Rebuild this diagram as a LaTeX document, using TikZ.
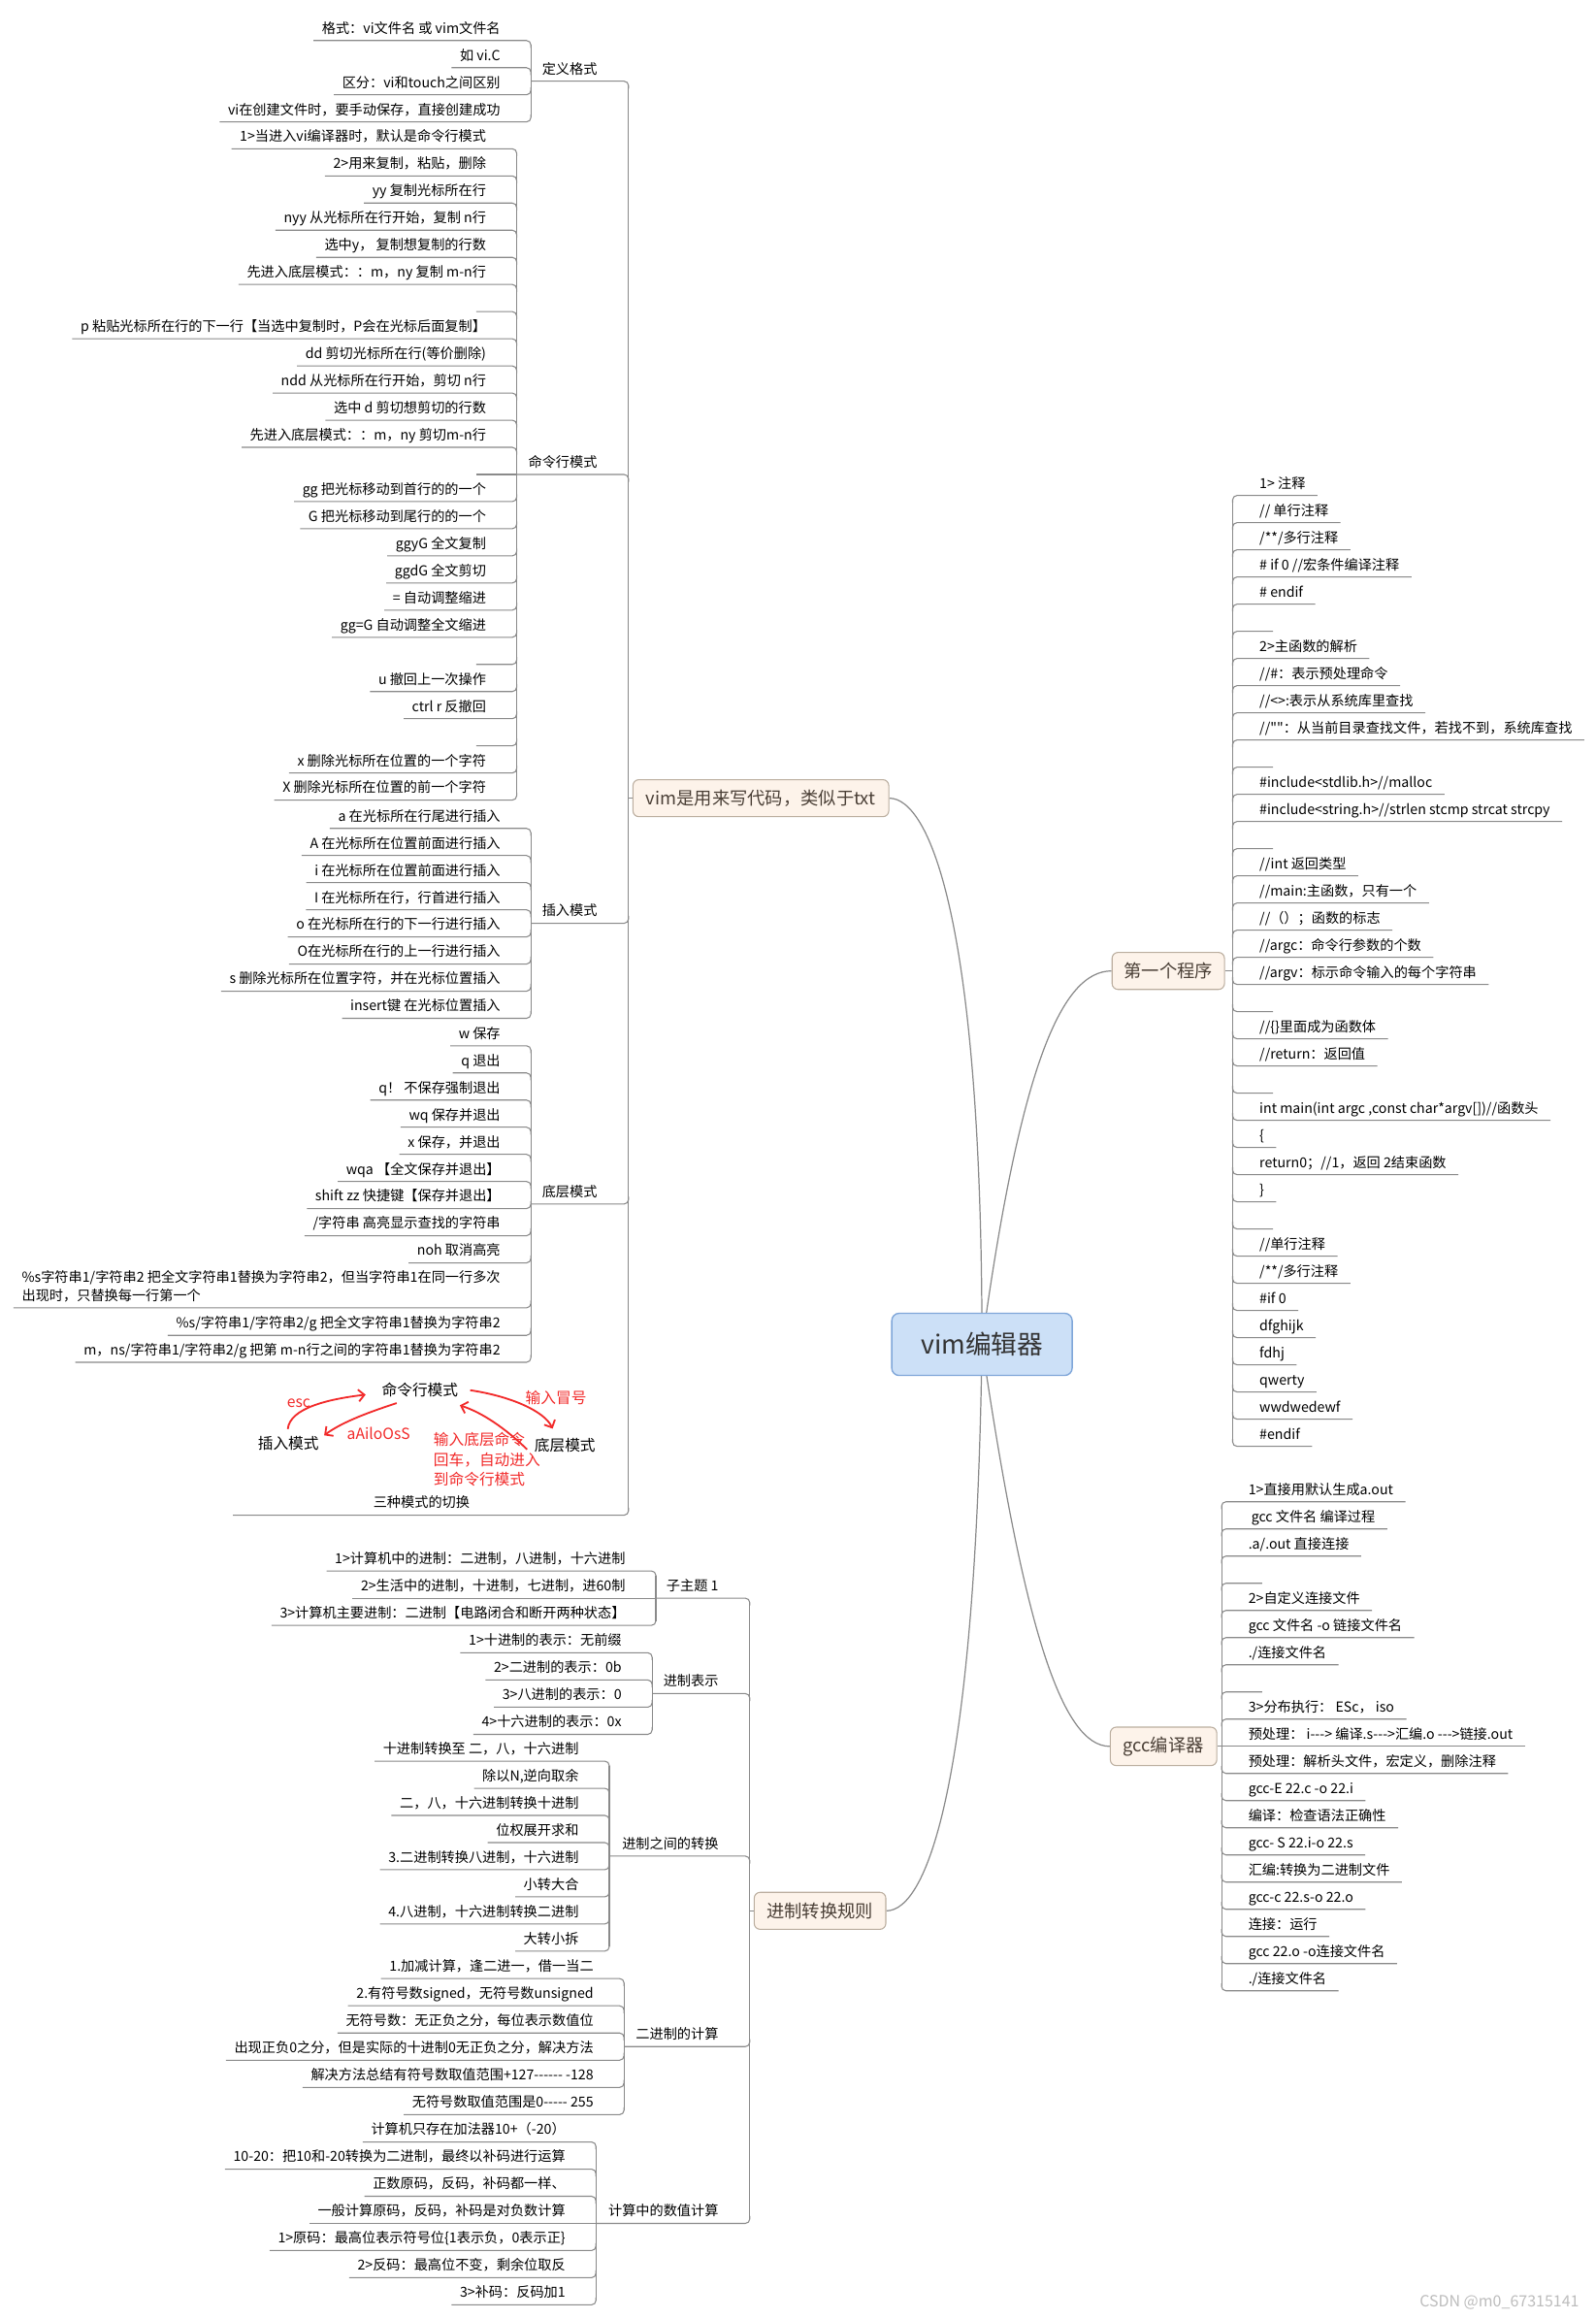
\documentclass[tikz,border=0pt]{standalone}
\usepackage{fontspec}
\setmainfont{Noto Sans CJK SC}[Ligatures=TeXOff]
\usetikzlibrary{calc,arrows.meta}
\pgfdeclarelayer{bg}\pgfsetlayers{bg,main}
\definecolor{lnc}{HTML}{8A8A8A}
\definecolor{rootfill}{HTML}{CCE0F7}
\definecolor{rootdraw}{HTML}{7FA6D9}
\definecolor{brfill}{HTML}{FDF3EA}
\definecolor{brdraw}{HTML}{BBAE9F}
\definecolor{brtext}{HTML}{4A3F36}
\definecolor{redc}{HTML}{F22A2A}
\definecolor{wmc}{HTML}{BDBDBD}
\newcounter{nd}
\newcommand\mkname{\stepcounter{nd}\edef\nn{n\arabic{nd}}}
% left item: bracket x, underline y, dir, text
\newcommand\LI[4]{\mkname
  \node[item,anchor=base east] (\nn) at ({#1-20.5},{#2-5}) {#4};
  \ifnum#3=0 \draw[ln] ($(\nn.west |- 0,{#2})+(-5.5,0)$) -- (#1,{#2});
  \else \draw[ln,rounded corners=3pt] ($(\nn.west |- 0,{#2})+(-5.5,0)$) -| (#1,{#2+(#3)*5});\fi}
% right item
\newcommand\RI[4]{\mkname
  \node[item,anchor=base west] (\nn) at ({#1+18},{#2-5}) {#4};
  \ifnum#3=0 \draw[ln] (#1,{#2}) -- ($(\nn.east |- 0,{#2})+(8,0)$);
  \else \draw[ln,rounded corners=3pt] ($(\nn.east |- 0,{#2})+(8,0)$) -| (#1,{#2+(#3)*5});\fi}
% left subtopic: parent bracket, y, dir, text, child bracket
\newcommand\LS[5]{\mkname
  \node[item,anchor=base east] (\nn) at ({#1-21},{#2-5}) {#4};
  \draw[ln,rounded corners=3pt] (#5,{#2}) -| (#1,{#2+(#3)*5});}
\newcommand\BR[3]{\draw[ln] (#1,{#2+3}) -- (#1,{#3-3});}
\tikzset{
  item/.style={inner sep=0pt,font=\fontsize{9.3}{12}\selectfont,text=black},
  ln/.style={draw=lnc,line width=0.7pt},
  curve/.style={draw=lnc,line width=0.8pt},
  rootbox/.style={draw=rootdraw,fill=rootfill,rounded corners=5pt,line width=0.9pt,minimum width=122pt,minimum height=42pt,font=\fontsize{17.5}{19}\selectfont,text=black!80,inner sep=0pt},
  brbox/.style={draw=brdraw,fill=brfill,rounded corners=4pt,line width=0.7pt,minimum height=25pt,font=\fontsize{12}{13}\selectfont,text=brtext,inner sep=0pt},
  modetxt/.style={inner sep=0pt,font=\fontsize{10.3}{12}\selectfont,text=black},
  redtxt/.style={inner sep=0pt,font=\fontsize{10.3}{13.4}\selectfont,text=redc},
  redarr/.style={draw=redc,line width=1.2pt,-{Straight Barb[length=4pt,width=8pt]}},
}
\begin{document}
\begin{tikzpicture}[x=1pt,y=-1pt]
\useasboundingbox (0,0) rectangle (1079,1568);
\begin{pgfonlayer}{bg}
\fill[white] (0,0) rectangle (1079,1568);
\end{pgfonlayer}

% root and main branches
\node[rootbox] (root) at (664,909) {vim编辑器};
\node[brbox,minimum width=173pt] (b1) at (514.5,539.7) {vim是用来写代码，类似于txt};
\node[brbox,minimum width=76pt] (b2) at (790,656.5) {第一个程序};
\node[brbox,minimum width=72pt,minimum height=26pt] (b3) at (786.8,1180.8) {gcc编译器};
\node[brbox,minimum width=89pt] (b4) at (554.5,1292) {进制转换规则};
\begin{pgfonlayer}{bg}
\draw[curve] (root.center) .. controls (664,620) and (628,539.7) .. (b1.east);
\draw[curve] (root.center) .. controls (690,720) and (718,656.5) .. (b2.west);
\draw[curve] (root.center) .. controls (692,1100) and (718,1180.8) .. (b3.west);
\draw[curve] (root.center) .. controls (660,1200) and (628,1292) .. (b4.east);
\end{pgfonlayer}
\draw[ln] (b1.west) -- (425,539.7);
\draw[ln] (b2.east) -- (833.5,656.5);
\draw[ln] (b3.east) -- (826,1180.8);
\draw[ln] (b4.west) -- (507,1292);

% ===== vim branch =====
\BR{425}{54.9}{1024.5}
\LS{425}{54.9}{1}{定义格式}{359}
\BR{359}{27.4}{82.45}
\LI{359}{27.4}{1}{格式：vi文件名 或 vim文件名}
\LI{359}{45.75}{1}{如 vi.C}
\LI{359}{64.1}{-1}{区分：vi和touch之间区别}
\LI{359}{82.45}{-1}{vi在创建文件时，要手动保存，直接创建成功}

\LS{425}{320.8}{1}{命令行模式}{349.4}
\BR{349.4}{100.6}{541}
\LI{349.4}{100.6}{1}{1>当进入vi编译器时，默认是命令行模式}
\LI{349.4}{118.95}{1}{2>用来复制，粘贴，删除}
\LI{349.4}{137.3}{1}{yy 复制光标所在行}
\LI{349.4}{155.65}{1}{nyy 从光标所在行开始，复制 n行}
\LI{349.4}{174.0}{1}{选中y， 复制想复制的行数}
\LI{349.4}{192.35}{1}{先进入底层模式：：m，ny 复制 m-n行}
\LI{349.4}{210.7}{1}{}
\LI{349.4}{229.05}{1}{p 粘贴光标所在行的下一行【当选中复制时，P会在光标后面复制】}
\LI{349.4}{247.4}{1}{dd 剪切光标所在行(等价删除)}
\LI{349.4}{265.75}{1}{ndd 从光标所在行开始，剪切 n行}
\LI{349.4}{284.1}{1}{选中 d 剪切想剪切的行数}
\LI{349.4}{302.45}{1}{先进入底层模式：：m，ny 剪切m-n行}
\LI{349.4}{320.8}{0}{}
\LI{349.4}{339.15}{-1}{gg 把光标移动到首行的的一个}
\LI{349.4}{357.5}{-1}{G 把光标移动到尾行的的一个}
\LI{349.4}{375.85}{-1}{ggyG 全文复制}
\LI{349.4}{394.2}{-1}{ggdG  全文剪切}
\LI{349.4}{412.55}{-1}{= 自动调整缩进}
\LI{349.4}{430.9}{-1}{gg=G 自动调整全文缩进}
\LI{349.4}{449.25}{-1}{}
\LI{349.4}{467.6}{-1}{u 撤回上一次操作}
\LI{349.4}{485.95}{-1}{ctrl r 反撤回}
\LI{349.4}{504.3}{-1}{}
\LI{349.4}{522.65}{-1}{x 删除光标所在位置的一个字符}
\LI{349.4}{541.0}{-1}{X 删除光标所在位置的前一个字符}

\LS{425}{624.3}{-1}{插入模式}{359}
\BR{359}{560.1}{688.55}
\LI{359}{560.1}{1}{a 在光标所在行尾进行插入}
\LI{359}{578.45}{1}{A 在光标所在位置前面进行插入}
\LI{359}{596.8}{1}{i 在光标所在位置前面进行插入}
\LI{359}{615.15}{1}{I 在光标所在行，行首进行插入}
\LI{359}{633.5}{-1}{o 在光标所在行的下一行进行插入}
\LI{359}{651.85}{-1}{O在光标所在行的上一行进行插入}
\LI{359}{670.2}{-1}{s 删除光标所在位置字符，并在光标位置插入}
\LI{359}{688.55}{-1}{insert键 在光标位置插入}

\LS{425}{814.1}{-1}{底层模式}{359}
\BR{359}{707.1}{921.1}
\LI{359}{707.1}{1}{w 保存}
\LI{359}{725.45}{1}{q 退出}
\LI{359}{743.8}{1}{q！ 不保存强制退出}
\LI{359}{762.15}{1}{wq 保存并退出}
\LI{359}{780.5}{1}{x 保存，并退出}
\LI{359}{798.85}{1}{wqa 【全文保存并退出】}
\LI{359}{817.2}{-1}{shift zz 快捷键【保存并退出】}
\LI{359}{835.55}{-1}{/字符串 高亮显示查找的字符串}
\LI{359}{853.9}{-1}{noh 取消高亮}
\LI{359}{884.3}{-1}{\begin{tabular}[b]{@{}l@{}}\%s字符串1/字符串2 把全文字符串1替换为字符串2，但当字符串1在同一行多次\\出现时，只替换每一行第一个\end{tabular}}
\LI{359}{902.9}{-1}{\%s/字符串1/字符串2/g 把全文字符串1替换为字符串2}
\LI{359}{921.1}{-1}{m，ns/字符串1/字符串2/g 把第 m-n行之间的字符串1替换为字符串2}

% three modes picture
\node[item,anchor=base] (modes) at (285,1019.5) {三种模式的切换};
\draw[ln,rounded corners=3pt] (157.5,1024.5) -| (425,1019.5);
\node[modetxt] (cmdm) at (284,940) {命令行模式};
\node[modetxt] (insm) at (195,976) {插入模式};
\node[modetxt] (lowm) at (382,977) {底层模式};
\node[redtxt] (lesc) at (202,949) {esc};
\node[redtxt] (lins) at (256,969) {aAiloOsS};
\node[redtxt] (lcol) at (376,945) {输入冒号};
\node[redtxt,anchor=base west] (lret) at (293,977.5) {\begin{tabular}[t]{@{}l@{}}输入底层命令\\回车，自动进入\\到命令行模式\end{tabular}};
\draw[redarr] ([xshift=-0.4pt,yshift=4.8pt]insm.north) .. controls (196,952) and (222,946) .. ([xshift=-10.8pt,yshift=-3pt]cmdm.west);
\draw[redarr] ([xshift=-15.8pt,yshift=-3.7pt]cmdm.south) .. controls (252,954) and (232,961) .. ([xshift=3.4pt,yshift=5.5pt]insm.east);
\draw[redarr] ([xshift=8pt]cmdm.east) .. controls (345,944) and (368,954) .. ([xshift=-8.3pt,yshift=6pt]lowm.north);
\draw[redarr] ([xshift=-4.8pt,yshift=-3pt]lowm.west) .. controls (342,966) and (326,955) .. ([xshift=1pt,yshift=-5.2pt]cmdm.south east);

% ===== 第一个程序 =====
\BR{833.5}{335}{977.95}
\RI{833.5}{335.0}{1}{1> 注释}
\RI{833.5}{353.37}{1}{// 单行注释}
\RI{833.5}{371.74}{1}{/**/多行注释}
\RI{833.5}{390.11}{1}{\# if 0 //宏条件编译注释}
\RI{833.5}{408.48}{1}{\# endif}
\RI{833.5}{426.85}{1}{}
\RI{833.5}{445.22}{1}{2>主函数的解析}
\RI{833.5}{463.59}{1}{//\#：表示预处理命令}
\RI{833.5}{481.96}{1}{//<>:表示从系统库里查找}
\RI{833.5}{500.33}{1}{//""：从当前目录查找文件，若找不到，系统库查找}
\RI{833.5}{518.7}{1}{}
\RI{833.5}{537.07}{1}{\#include<stdlib.h>//malloc}
\RI{833.5}{555.44}{1}{\#include<string.h>//strlen stcmp strcat strcpy}
\RI{833.5}{573.81}{1}{}
\RI{833.5}{592.18}{1}{//int 返回类型}
\RI{833.5}{610.55}{1}{//main:主函数，只有一个}
\RI{833.5}{628.92}{1}{//（）；函数的标志}
\RI{833.5}{647.29}{1}{//argc：命令行参数的个数}
\RI{833.5}{665.66}{-1}{//argv：标示命令输入的每个字符串}
\RI{833.5}{684.03}{-1}{}
\RI{833.5}{702.4}{-1}{//\{\}里面成为函数体}
\RI{833.5}{720.77}{-1}{//return：返回值}
\RI{833.5}{739.14}{-1}{}
\RI{833.5}{757.51}{-1}{int main(int argc ,const char*argv[])//函数头}
\RI{833.5}{775.88}{-1}{\{}
\RI{833.5}{794.25}{-1}{return0；//1，返回 2结束函数}
\RI{833.5}{812.62}{-1}{\}}
\RI{833.5}{830.99}{-1}{}
\RI{833.5}{849.36}{-1}{//单行注释}
\RI{833.5}{867.73}{-1}{/**/多行注释}
\RI{833.5}{886.1}{-1}{\#if 0}
\RI{833.5}{904.47}{-1}{dfghijk}
\RI{833.5}{922.84}{-1}{fdhj}
\RI{833.5}{941.21}{-1}{qwerty}
\RI{833.5}{959.58}{-1}{wwdwedewf}
\RI{833.5}{977.95}{-1}{\#endif}

% ===== gcc编译器 =====
\BR{826}{1015.4}{1346.06}
\RI{826}{1015.4}{1}{1>直接用默认生成a.out}
\RI{826}{1033.77}{1}{\kern2pt gcc 文件名 编译过程}
\RI{826}{1052.14}{1}{.a/.out 直接连接}
\RI{826}{1070.51}{1}{}
\RI{826}{1088.88}{1}{2>自定义连接文件}
\RI{826}{1107.25}{1}{gcc 文件名 -o 链接文件名}
\RI{826}{1125.62}{1}{./连接文件名}
\RI{826}{1143.99}{1}{}
\RI{826}{1162.36}{1}{3>分布执行： ESc， iso}
\RI{826}{1180.73}{0}{预处理： i---> 编译.s--->汇编.o  --->链接.out}
\RI{826}{1199.1}{-1}{预处理：解析头文件，宏定义，删除注释}
\RI{826}{1217.47}{-1}{gcc-E 22.c -o 22.i}
\RI{826}{1235.84}{-1}{编译：检查语法正确性}
\RI{826}{1254.21}{-1}{gcc- S 22.i-o 22.s}
\RI{826}{1272.58}{-1}{汇编:转换为二进制文件}
\RI{826}{1290.95}{-1}{gcc-c 22.s-o 22.o}
\RI{826}{1309.32}{-1}{连接：运行}
\RI{826}{1327.69}{-1}{gcc 22.o -o连接文件名}
\RI{826}{1346.06}{-1}{./连接文件名}

% ===== 进制转换规则 =====
\BR{507}{1080.6}{1503.35}
\LS{507}{1080.6}{1}{子主题 1}{443.5}
\BR{443.5}{1062.2}{1099}
\LI{443.5}{1062.2}{1}{1>计算机中的进制：二进制，八进制，十六进制}
\LI{443.5}{1080.6}{0}{2>生活中的进制，十进制，七进制，进60制}
\LI{443.5}{1099.0}{-1}{3>计算机主要进制：二进制【电路闭合和断开两种状态】}

\LS{507}{1145.1}{1}{进制表示}{441}
\BR{441}{1117.5}{1172.7}
\LI{441}{1117.5}{1}{1>十进制的表示：无前缀}
\LI{441}{1135.9}{1}{2>二进制的表示：0b}
\LI{441}{1154.3}{-1}{3>八进制的表示：0}
\LI{441}{1172.7}{-1}{4>十六进制的表示：0x}

\LS{507}{1255}{1}{进制之间的转换}{412}
\BR{412}{1190.8}{1319.25}
\LI{412}{1190.8}{1}{十进制转换至 二，八，十六进制}
\LI{412}{1209.15}{1}{除以N,逆向取余}
\LI{412}{1227.5}{1}{二，八，十六进制转换十进制}
\LI{412}{1245.85}{1}{位权展开求和}
\LI{412}{1264.2}{-1}{3.二进制转换八进制，十六进制}
\LI{412}{1282.55}{-1}{小转大合}
\LI{412}{1300.9}{-1}{4.八进制，十六进制转换二进制}
\LI{412}{1319.25}{-1}{大转小拆}

\LS{507}{1383.8}{-1}{二进制的计算}{422}
\BR{422}{1337.8}{1429.8}
\LI{422}{1337.8}{1}{1.加减计算，逢二进一，借一当二}
\LI{422}{1356.2}{1}{2.有符号数signed，无符号数unsigned}
\LI{422}{1374.6}{1}{无符号数：无正负之分，每位表示数值位}
\LI{422}{1393.0}{-1}{出现正负0之分，但是实际的十进制0无正负之分，解决方法}
\LI{422}{1411.4}{-1}{解决方法总结有符号数取值范围+127------ -128}
\LI{422}{1429.8}{-1}{无符号数取值范围是0----- 255}

\LS{507}{1503.35}{-1}{计算中的数值计算}{403}
\BR{403}{1448.3}{1558.4}
\LI{403}{1448.3}{1}{计算机只存在加法器10+（-20）}
\LI{403}{1466.65}{1}{10-20：把10和-20转换为二进制，最终以补码进行运算}
\LI{403}{1485.0}{1}{正数原码，反码，补码都一样、}
\LI{403}{1503.35}{0}{一般计算原码，反码，补码是对负数计算}
\LI{403}{1521.7}{-1}{1>原码：最高位表示符号位\{1表示负，0表示正\}}
\LI{403}{1540.05}{-1}{2>反码：最高位不变，剩余位取反}
\LI{403}{1558.4}{-1}{3>补码：反码加1}

% watermark
\node[inner sep=0pt,anchor=base east,font=\fontsize{10.5}{12}\selectfont,text=wmc] (wm) at (1068,1560) {CSDN @m0\_67315141};
\end{tikzpicture}
\end{document}
